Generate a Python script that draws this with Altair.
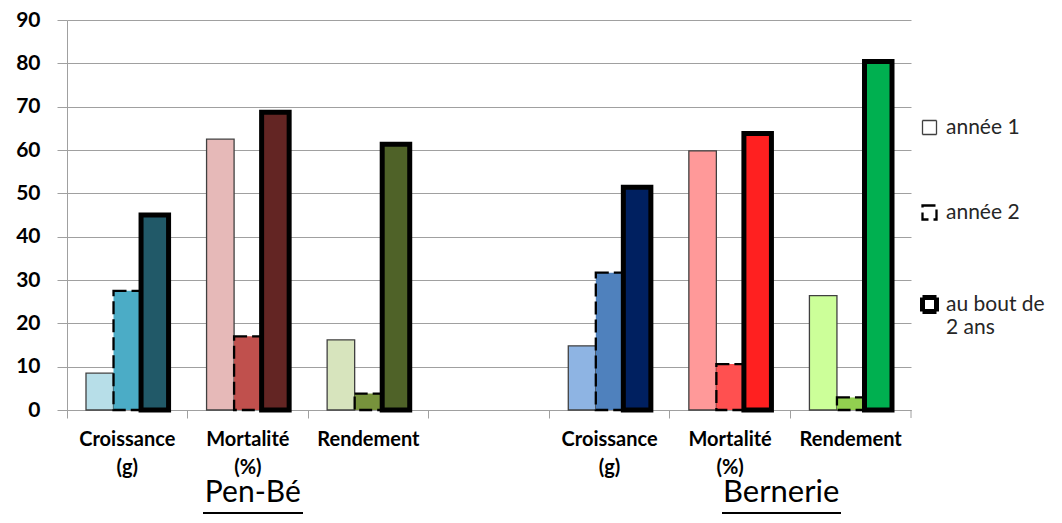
import altair as alt
import pandas as pd

# --- data ---
categories = ["pb_c", "pb_m", "pb_r", "vide", "be_c", "be_m", "be_r"]
years = ["année 1", "année 2", "au bout de 2 ans"]

pb_keys = ["pb_c", "pb_m", "pb_r"]
be_keys = ["be_c", "be_m", "be_r"]

pb_annee1 = [8.5, 62.5, 16.2]
pb_annee2 = [27.5, 17.0, 3.8]
pb_total = [45.0, 68.7, 61.3]

be_annee1 = [14.8, 59.8, 26.4]
be_annee2 = [31.7, 10.6, 2.9]
be_total = [51.4, 63.8, 80.4]

pb_col1 = ["#B7DEE8", "#E6B9B8", "#D7E4BD"]
pb_col2 = ["#4BACC6", "#C0504D", "#77933C"]
pb_col3 = ["#215968", "#632523", "#4F6228"]
be_col1 = ["#8EB4E3", "#FF9999", "#CCFF99"]
be_col2 = ["#4F81BD", "#FF5050", "#92D050"]
be_col3 = ["#002060", "#FF2020", "#00B050"]

rows = []
for keys, vals, cols in [
    (pb_keys, [pb_annee1, pb_annee2, pb_total], [pb_col1, pb_col2, pb_col3]),
    (be_keys, [be_annee1, be_annee2, be_total], [be_col1, be_col2, be_col3]),
]:
    for i, k in enumerate(keys):
        for j, y in enumerate(years):
            rows.append({"cat": k, "year": y, "value": vals[j][i], "color": cols[j][i]})
df = pd.DataFrame(rows)

FONT = "Lato"
GRID = "#A0A0A0"

xscale = alt.Scale(domain=categories, paddingInner=0, paddingOuter=0)

legend = alt.Legend(
    title=None,
    orient="none",
    legendX=852,
    legendY=97,
    symbolType="square",
    symbolSize=196,
    symbolFillColor="white",
    labelFont=FONT,
    labelFontSize=21,
    labelColor="#262626",
    labelOffset=6,
    rowPadding=62,
    padding=0,
    labelLimit=200,
    labelExpr="datum.label == 'au bout de 2 ans' ? ['au bout de', '2 ans'] : datum.label",
)

bars = alt.Chart(df).mark_bar().encode(
    x=alt.X(
        "cat:N",
        sort=categories,
        scale=xscale,
        axis=alt.Axis(
            title=None,
            bandPosition=0,
            labelAngle=0,
            labelFont=FONT,
            labelFontSize=20,
            labelFontWeight="bold",
            labelColor="black",
            labelLineHeight=28,
            labelBaseline="top",
            labelPadding=11,
            tickSize=8,
            tickColor=GRID,
            domainColor=GRID,
            grid=False,
            labelExpr=(
                "indexof(datum.value, '_c') > 0 ? ['Croissance', '(g)'] : "
                "indexof(datum.value, '_m') > 0 ? ['Mortalité', '(%)'] : "
                "indexof(datum.value, '_r') > 0 ? 'Rendement' : ''"
            ),
        ),
    ),
    xOffset=alt.XOffset(
        "year:N",
        sort=years,
        scale=alt.Scale(domain=years, paddingInner=0, paddingOuter=0.69),
    ),
    y=alt.Y(
        "value:Q",
        stack=None,
        scale=alt.Scale(domain=[0, 90], nice=False),
        axis=alt.Axis(
            title=None,
            values=list(range(0, 91, 10)),
            labelFont=FONT,
            labelFontSize=21,
            labelFontWeight="bold",
            labelColor="black",
            labelPadding=17,
            tickSize=10,
            tickColor=GRID,
            domainColor=GRID,
            gridColor=GRID,
            grid=True,
        ),
    ),
    fill=alt.Fill("color:N", scale=None),
    stroke=alt.Stroke(
        "year:N",
        scale=alt.Scale(domain=years, range=["#404040", "#000000", "#000000"]),
        legend=legend,
    ),
    strokeDash=alt.StrokeDash(
        "year:N",
        scale=alt.Scale(domain=years, range=[[1, 0], [13, 5], [1, 0]]),
        legend=legend,
    ),
    strokeWidth=alt.StrokeWidth(
        "year:N",
        scale=alt.Scale(type="ordinal", domain=years, range=[1.3, 2.3, 5]),
        legend=legend,
    ),
)

penbe = alt.Chart(pd.DataFrame({"cat": ["pb_m"], "label": ["Pen-Bé"]})).mark_text(
    dx=5, baseline="alphabetic", align="center", font=FONT, fontSize=30, color="black"
).encode(x=alt.X("cat:N", sort=categories, scale=xscale), y=alt.value(482), text="label:N")

bernerie = alt.Chart(pd.DataFrame({"cat": ["be_m"], "label": ["Bernerie"]})).mark_text(
    dx=51, baseline="alphabetic", align="center", font=FONT, fontSize=31, color="black"
).encode(x=alt.X("cat:N", sort=categories, scale=xscale), y=alt.value(482), text="label:N")

one = pd.DataFrame({"k": [0]})
underline_pb = alt.Chart(one).mark_rule(color="black", strokeWidth=2).encode(
    x=alt.value(136), x2=alt.value(236), y=alt.value(493)
)
underline_be = alt.Chart(one).mark_rule(color="black", strokeWidth=2).encode(
    x=alt.value(655), x2=alt.value(774), y=alt.value(493)
)
end_tick = alt.Chart(one).mark_rule(color=GRID, strokeWidth=1).encode(
    x=alt.value(844), y=alt.value(390), y2=alt.value(398)
)

chart = (
    alt.layer(bars, penbe, bernerie, underline_pb, underline_be, end_tick)
    .properties(
        width=844,
        height=390,
        autosize=alt.AutoSizeParams(type="none"),
        padding={"left": 59, "top": 12, "right": 143, "bottom": 105},
        background="white",
    )
    .configure_view(stroke=None)
)

chart.save("out.html", embed_options={"renderer": "svg", "actions": False})
